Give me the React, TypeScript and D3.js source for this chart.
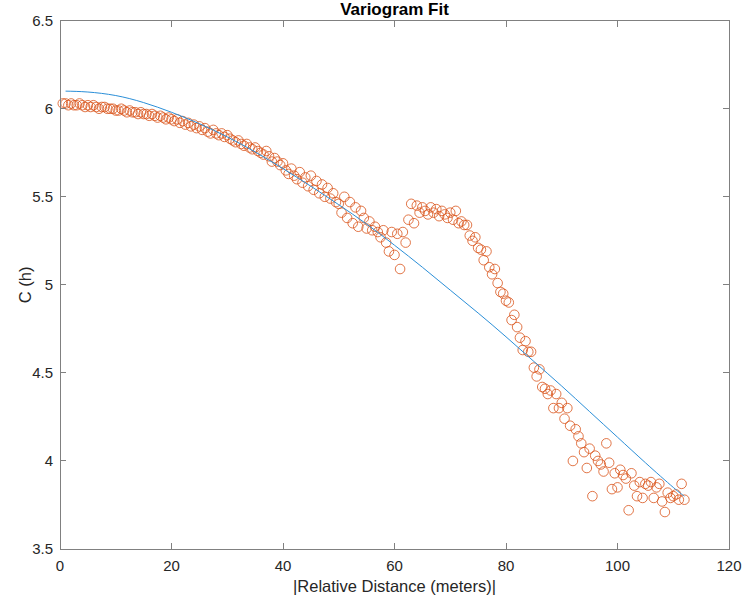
import React from "react";
import * as d3 from "d3";

// Empirical covariance values, lag distances in meters
const lagDistances = [
  0.5, 1, 1.5, 2, 2.5, 3, 3.5, 4, 4.5, 5, 5.5, 6, 6.5, 7, 7.5, 8, 8.5, 9, 9.5, 10,
  10.5, 11, 11.5, 12, 12.5, 13, 13.5, 14, 14.5, 15, 15.5, 16, 16.5, 17, 17.5, 18, 18.5, 19, 19.5, 20,
  20.5, 21, 21.5, 22, 22.5, 23, 23.5, 24, 24.5, 25, 25.5, 26, 26.5, 27, 27.5, 28, 28.5, 29, 29.5, 30,
  30.5, 31, 31.5, 32, 32.5, 33, 33.5, 34, 34.5, 35, 35.5, 36, 36.5, 37, 37.5, 38, 38.5, 39, 39.5, 40,
  40.5, 41, 41.5, 42, 42.5, 43, 43.5, 44, 44.5, 45, 45.5, 46, 46.5, 47, 47.5, 48, 48.5, 49, 49.5, 50,
  50.5, 51, 51.5, 52, 52.5, 53, 53.5, 54, 54.5, 55, 55.5, 56, 56.5, 57, 57.5, 58, 58.5, 59, 59.5, 60,
  60.5, 61, 61.5, 62, 62.5, 63, 63.5, 64, 64.5, 65, 65.5, 66, 66.5, 67, 67.5, 68, 68.5, 69, 69.5, 70,
  70.5, 71, 71.5, 72, 72.5, 73, 73.5, 74, 74.5, 75, 75.5, 76, 76.5, 77, 77.5, 78, 78.5, 79, 79.5, 80,
  80.5, 81, 81.5, 82, 82.5, 83, 83.5, 84, 84.5, 85, 85.5, 86, 86.5, 87, 87.5, 88, 88.5, 89, 89.5, 90,
  90.5, 91, 91.5, 92, 92.5, 93, 93.5, 94, 94.5, 95, 95.5, 96, 96.5, 97, 97.5, 98, 98.5, 99, 99.5, 100,
  100.5, 101, 101.5, 102, 102.5, 103, 103.5, 104, 104.5, 105, 105.5, 106, 106.5, 107, 107.5, 108, 108.5, 109, 109.5, 110, 110.5, 111, 111.5, 112,
];

const covValues = [
  6.03, 6.03, 6.02, 6.03, 6.02, 6.02, 6.03, 6.02, 6.01, 6.02, 6.01, 6.02, 6.01, 6.0, 6.01, 6.01, 6.0, 6.0, 6.0, 5.99,
  5.99, 6.0, 5.99, 5.98, 5.99, 5.98, 5.98, 5.97, 5.98, 5.97, 5.97, 5.96, 5.97, 5.96, 5.95, 5.96, 5.95, 5.94, 5.95, 5.94,
  5.93, 5.94, 5.92, 5.93, 5.91, 5.92, 5.9, 5.91, 5.89, 5.9, 5.88, 5.89, 5.87, 5.86, 5.88, 5.86, 5.85, 5.86, 5.84, 5.85,
  5.83, 5.82, 5.81, 5.82, 5.8, 5.79, 5.8, 5.78, 5.77, 5.78, 5.76, 5.75, 5.74, 5.76, 5.73, 5.7, 5.72, 5.7, 5.68, 5.69,
  5.65, 5.63, 5.66, 5.62, 5.6, 5.64, 5.58, 5.61, 5.56, 5.62, 5.54, 5.59, 5.52, 5.57, 5.5, 5.55, 5.49, 5.52, 5.47, 5.46,
  5.41, 5.5, 5.38, 5.47, 5.35, 5.44, 5.33, 5.42, 5.38, 5.32, 5.36, 5.31, 5.33, 5.3, 5.27, 5.31, 5.24, 5.19, 5.3, 5.17,
  5.29, 5.09, 5.3, 5.24, 5.37, 5.46, 5.35, 5.45, 5.41, 5.44, 5.42, 5.4, 5.44, 5.41, 5.43, 5.39, 5.42, 5.4, 5.38, 5.41,
  5.37, 5.42, 5.35, 5.36, 5.34, 5.34, 5.28, 5.25, 5.27, 5.21, 5.2, 5.14, 5.19, 5.1, 5.06, 5.09, 5.01, 4.96, 4.95, 4.91,
  4.9, 4.8, 4.83, 4.76, 4.7, 4.63, 4.68, 4.62, 4.62, 4.53, 4.48, 4.52, 4.42, 4.41, 4.38, 4.4, 4.3, 4.38, 4.3, 4.33,
  4.24, 4.3, 4.2, 4.0, 4.18, 4.14, 4.1, 4.05, 3.96, 4.07, 3.8, 4.03, 4.0, 3.98, 3.94, 4.1, 3.99, 3.84, 3.93, 3.85,
  3.95, 3.92, 3.9, 3.72, 3.93, 3.86, 3.8, 3.88, 3.79, 3.87, 3.86, 3.88, 3.79, 3.85, 3.87, 3.77, 3.71, 3.82, 3.79, 3.8, 3.81, 3.78, 3.87, 3.78,
];

// Fitted model curve
const fitDistances = [1, 5, 10, 15, 20, 25, 30, 35, 40, 45, 50, 55, 60, 65, 70, 75, 80, 85, 90, 95, 100, 105, 110, 112];
const fitValues = [6.1, 6.095, 6.075, 6.035, 5.98, 5.915, 5.84, 5.755, 5.66, 5.56, 5.455, 5.345, 5.225, 5.1, 4.97, 4.84, 4.705, 4.565, 4.425, 4.28, 4.135, 3.99, 3.85, 3.8];

const xTicks = [0, 20, 40, 60, 80, 100, 120];
const yTicks = [3.5, 4, 4.5, 5, 5.5, 6, 6.5];
const yTickLabels = ["3.5", "4", "4.5", "5", "5.5", "6", "6.5"];

const W = 743;
const H = 603;
const M = { left: 60, right: 729, top: 20.7, bottom: 549 };
const FONT = "'Liberation Sans', Arial, Helvetica, sans-serif";
const AXIS = "#262626";
const BOX = "#808080";

export default function App() {
  const x = d3.scaleLinear().domain([0, 120]).range([M.left, M.right]);
  const y = d3.scaleLinear().domain([3.5, 6.5]).range([M.bottom, M.top]);

  const fitPts: [number, number][] = fitDistances.map((d, i) => [d, fitValues[i]]);
  const line = d3
    .line<[number, number]>()
    .x((d) => x(d[0]))
    .y((d) => y(d[1]))
    .curve(d3.curveNatural);

  const tickLen = 6;

  return (
    <svg
      width={W}
      height={H}
      style={{ position: "absolute", left: 0, top: 0, background: "#fff" }}
      fontFamily={FONT}
    >
      <rect x={0} y={0} width={W} height={H} fill="#fff" />
      {/* scatter */}
      <g fill="none" stroke="#D95319" strokeWidth={0.8}>
        {lagDistances.map((d, i) => (
          <circle key={i} cx={x(d)} cy={y(covValues[i])} r={4.8} />
        ))}
      </g>
      {/* fit line */}
      <path d={line(fitPts) || ""} fill="none" stroke="#2b8fd8" strokeWidth={1} />

      {/* box */}
      <rect
        x={M.left}
        y={M.top}
        width={M.right - M.left}
        height={M.bottom - M.top}
        fill="none"
        stroke={BOX}
        strokeWidth={1}
        shapeRendering="crispEdges"
      />
      {/* ticks */}
      <g stroke={BOX} strokeWidth={1} shapeRendering="crispEdges">
        {xTicks.map((t) => (
          <g key={t}>
            <line x1={x(t)} x2={x(t)} y1={M.bottom} y2={M.bottom - tickLen} />
            <line x1={x(t)} x2={x(t)} y1={M.top} y2={M.top + tickLen} />
          </g>
        ))}
        {yTicks.map((t) => (
          <g key={t}>
            <line x1={M.left} x2={M.left + tickLen} y1={y(t)} y2={y(t)} />
            <line x1={M.right} x2={M.right - tickLen} y1={y(t)} y2={y(t)} />
          </g>
        ))}
      </g>
      <g fill={AXIS} fontSize={15}>
        {xTicks.map((t) => (
          <text key={t} x={x(t)} y={M.bottom + 22} textAnchor="middle">
            {t}
          </text>
        ))}
        {yTicks.map((t, i) => (
          <text key={t} x={M.left - 7} y={y(t) + 5} textAnchor="end">
            {yTickLabels[i]}
          </text>
        ))}
      </g>
      <text x={(M.left + M.right) / 2} y={592} textAnchor="middle" fontSize={16.5} fill={AXIS}>
        |Relative Distance (meters)|
      </text>
      <text
        transform={`translate(31,${(M.top + M.bottom) / 2}) rotate(-90)`}
        textAnchor="middle"
        fontSize={16.5}
        fill={AXIS}
      >
        C (h)
      </text>
      <text
        x={(M.left + M.right) / 2}
        y={15}
        textAnchor="middle"
        fontSize={17}
        fontWeight="bold"
        fill="#000"
      >
        Variogram Fit
      </text>
    </svg>
  );
}
